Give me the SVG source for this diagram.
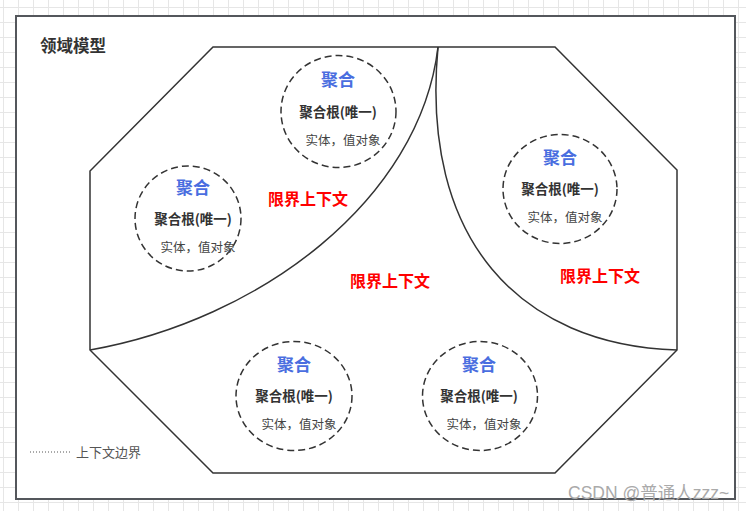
<svg xmlns="http://www.w3.org/2000/svg" width="746" height="511" viewBox="0 0 746 511">
<defs>
<pattern id="grid" x="3" y="7" width="15" height="15" patternUnits="userSpaceOnUse">
<path d="M0 0.5H15M0.5 0V15" fill="none" stroke="#e6e6e6" stroke-width="1"/>
</pattern>
<style>
.frame{fill:#fff;stroke:#54575c;stroke-width:2}
.line{fill:none;stroke:#333;stroke-width:1.5}
.agg{fill:none;stroke:#333;stroke-width:1.5;stroke-dasharray:7 4}
.t1{font-family:"Noto Sans CJK SC","Liberation Sans",sans-serif;font-size:17px;font-weight:bold;fill:#4a6ee0;text-anchor:middle}
.t2{font-family:"Noto Sans CJK SC","Liberation Sans",sans-serif;font-size:13.5px;font-weight:bold;fill:#333;text-anchor:middle}
.t3{font-family:"Noto Sans CJK SC","Liberation Sans",sans-serif;font-size:12.5px;fill:#444;text-anchor:middle}
.bc{font-family:"Noto Sans CJK SC","Liberation Sans",sans-serif;font-size:16px;font-weight:bold;fill:#f00;text-anchor:middle}
</style>
</defs>
<rect width="746" height="511" fill="#fff"/>
<rect width="746" height="511" fill="url(#grid)"/>
<rect class="frame" x="16" y="16" width="719" height="483"/>
<text x="40" y="52" font-family="'Noto Sans CJK SC','Liberation Sans',sans-serif" font-size="16.5" font-weight="bold" fill="#333">领域模型</text>
<g id="connectors">
<path class="line" d="M213 47H555L677 170V350L555 473H213L90 350V171Z"/>
<path class="line" d="M438 47C420 200 260 320 90 350"/>
<path class="line" d="M438 47C420 240 520 345 677 350"/>
</g>
<g id="agg1">
<ellipse class="agg" cx="338.5" cy="111.5" rx="57.5" ry="56"/>
<text class="t1" x="338" y="86">聚合</text>
<text class="t2" x="338" y="117">聚合根(唯一)</text>
<text class="t3" x="343" y="144.5">实体，值对象</text>
</g>
<g id="agg2">
<ellipse class="agg" cx="188" cy="218.5" rx="53" ry="52.5"/>
<text class="t1" x="193" y="194">聚合</text>
<text class="t2" x="193" y="224">聚合根(唯一)</text>
<text class="t3" x="198" y="251.5">实体，值对象</text>
</g>
<g id="agg3">
<ellipse class="agg" cx="560" cy="189" rx="57" ry="54.5"/>
<text class="t1" x="560" y="164">聚合</text>
<text class="t2" x="560" y="194">聚合根(唯一)</text>
<text class="t3" x="565" y="221.5">实体，值对象</text>
</g>
<g id="agg4">
<ellipse class="agg" cx="294" cy="396" rx="58" ry="54.5"/>
<text class="t1" x="294" y="371">聚合</text>
<text class="t2" x="294" y="401">聚合根(唯一)</text>
<text class="t3" x="299" y="428.5">实体，值对象</text>
</g>
<g id="agg5">
<ellipse class="agg" cx="480" cy="396" rx="57.5" ry="54.5"/>
<text class="t1" x="479" y="371">聚合</text>
<text class="t2" x="479" y="401">聚合根(唯一)</text>
<text class="t3" x="484" y="428.5">实体，值对象</text>
</g>
<g id="bc1"><text class="bc" x="308" y="205">限界上下文</text></g>
<g id="bc2"><text class="bc" x="390" y="287">限界上下文</text></g>
<g id="bc3"><text class="bc" x="600" y="282">限界上下文</text></g>
<g id="legend">
<line x1="30" y1="452" x2="72" y2="452" stroke="#555" stroke-width="1" stroke-dasharray="1 2"/>
<text x="76" y="456.5" font-family="'Noto Sans CJK SC','Liberation Sans',sans-serif" font-size="13" fill="#555">上下文边界</text>
</g>
<text x="568" y="499" font-family="'Liberation Sans','Noto Sans CJK SC',sans-serif" font-size="17.5" fill="#aaa">CSDN @普通人zzz~</text>
</svg>
